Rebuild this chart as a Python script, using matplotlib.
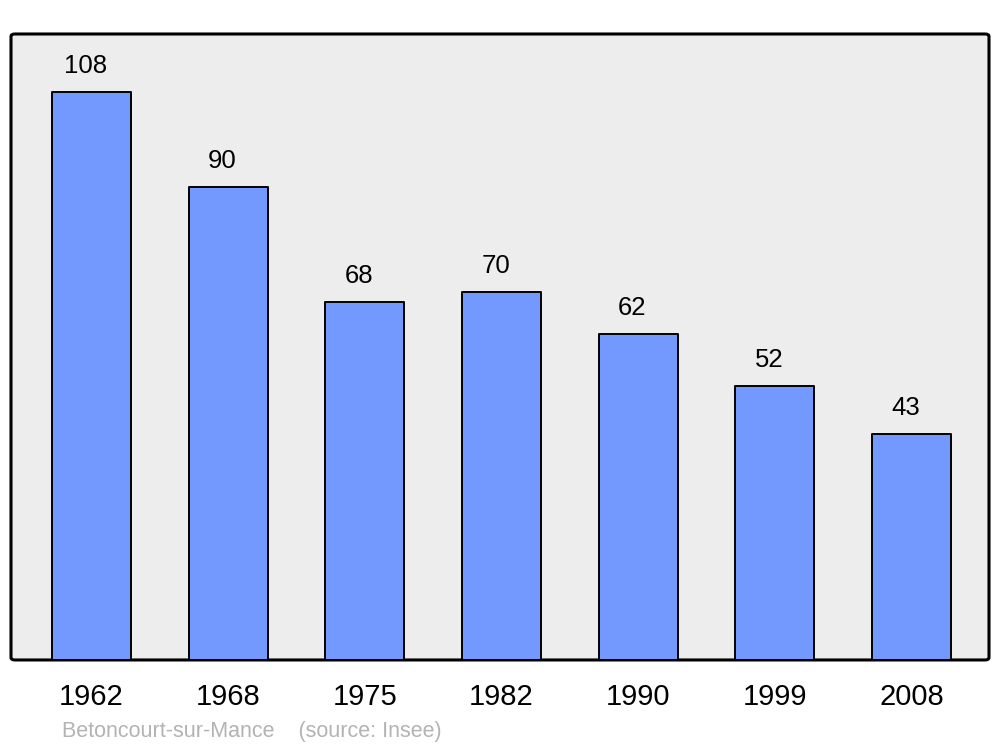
import matplotlib.pyplot as plt
from matplotlib.patches import FancyBboxPatch

plt.rcParams['font.family'] = ['Liberation Sans', 'DejaVu Sans']

years = ['1962', '1968', '1975', '1982', '1990', '1999', '2008']
population = [108, 90, 68, 70, 62, 52, 43]

fig = plt.figure(figsize=(10, 7.47), dpi=100)
ax = fig.add_axes([0.011, 0.1165, 0.978, 0.838])
ax.set_facecolor('none')

# rounded frame with grey background
frame = FancyBboxPatch((0, 0), 1, 1, boxstyle='round,pad=0,rounding_size=0.004',
                       transform=ax.transAxes, facecolor='#ededed',
                       edgecolor='black', linewidth=2.2, zorder=0, clip_on=False)
ax.add_patch(frame)

x = range(len(years))
bars = ax.bar(x, population, width=0.578, color='#7399ff', edgecolor='black',
              linewidth=1.4, zorder=2)
for b in bars:
    b.set_joinstyle('round')

for xi, v in zip(x, population):
    ax.annotate(str(v), (xi, v), xytext=(-4.2, 13.7), textcoords='offset points',
                ha='center', va='baseline', fontsize=18.5, color='black')

ax.set_xlim(-0.5885, 6.5675)
ax.set_ylim(0, 119)
ax.set_xticks(list(x))
ax.set_xticklabels(years, fontsize=21)
ax.tick_params(axis='x', length=0, pad=16.5)
ax.set_yticks([])
for s in ax.spines.values():
    s.set_visible(False)

fig.text(0.062, 1 - 737 / 747, 'Betoncourt-sur-Mance    (source: Insee)',
         fontsize=15.5, color='#b3b3b3', va='baseline', ha='left')

fig.savefig('out.png', dpi=100)
